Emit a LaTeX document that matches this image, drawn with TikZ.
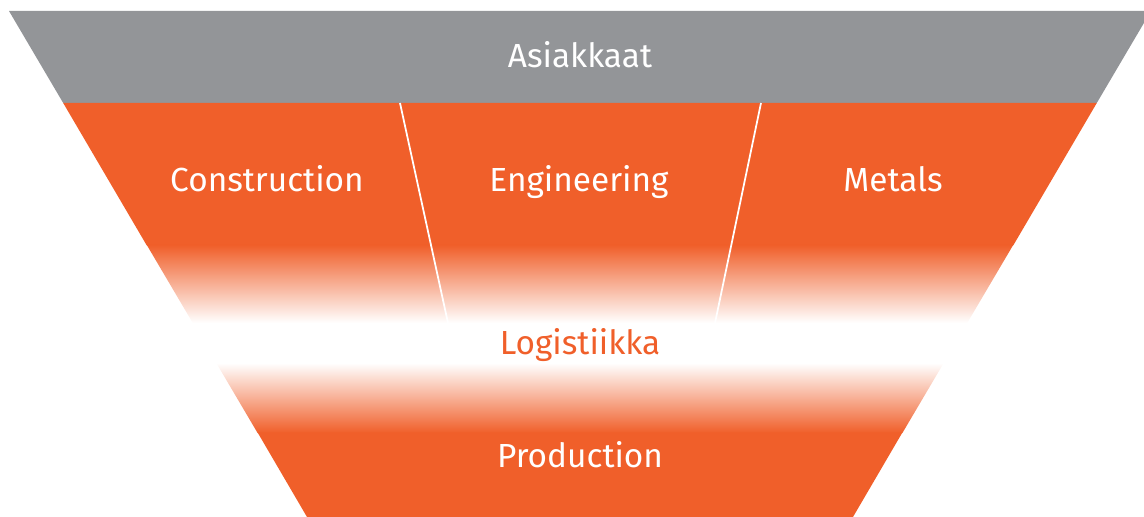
\documentclass[tikz,border=0pt]{standalone}
\usepackage{fontspec}
\setmainfont{Fira Sans}
\definecolor{funnelgray}{HTML}{939598}
\definecolor{funnelorange}{HTML}{F05F2A}

\begin{document}
\begin{tikzpicture}[x=0.02cm,y=-0.02cm,
    tierlabel/.style={text=white,anchor=base,inner sep=0pt,font=\fontsize{19}{22}\selectfont},
    divider/.style={white,line width=1pt}]
  \useasboundingbox (0,0) rectangle (1144,517);
  \clip (0,0) rectangle (1144,517);
  % 灰色顶层
  \fill[funnelgray] (9,11) -- (1151,11) -- (1096.8,103) -- (63.2,103) -- cycle;
  % 橙色中层及渐隐
  \fill[funnelorange] (63.2,103) -- (1096.8,103) -- (1013.2,245.5) -- (146.8,245.5) -- cycle;
  \shade[top color=funnelorange,bottom color=white] (146.8,245) -- (1013.2,245) -- (967.2,323) -- (192.8,323) -- cycle;
  % 橙色底层
  \shade[top color=white,bottom color=funnelorange] (216.3,363) -- (943.7,363) -- (902.4,433) -- (257.6,433) -- cycle;
  \fill[funnelorange] (257.6,432.5) -- (902.4,432.5) -- (853,517) -- (307,517) -- cycle;
  % 分隔线
  \coordinate (divAtop) at (400,103);
  \coordinate (divAbot) at (448,323);
  \coordinate (divBtop) at (761,103);
  \coordinate (divBbot) at (715,323);
  \draw[divider] (divAtop) -- (divAbot);
  \draw[divider] (divBtop) -- (divBbot);
  % 标签（按基线放置）
  \node[tierlabel] (asiakkaat) at (580,68) {Asiakkaat};
  \node[tierlabel] (construction) at (267,192) {Construction};
  \node[tierlabel] (engineering) at (579,192) {Engineering};
  \node[tierlabel] (metals) at (893,192) {Metals};
  \node[tierlabel,text=funnelorange] (logistiikka) at (580,355) {Logistiikka};
  \node[tierlabel] (production) at (580,467) {Production};
\end{tikzpicture}
\end{document}
